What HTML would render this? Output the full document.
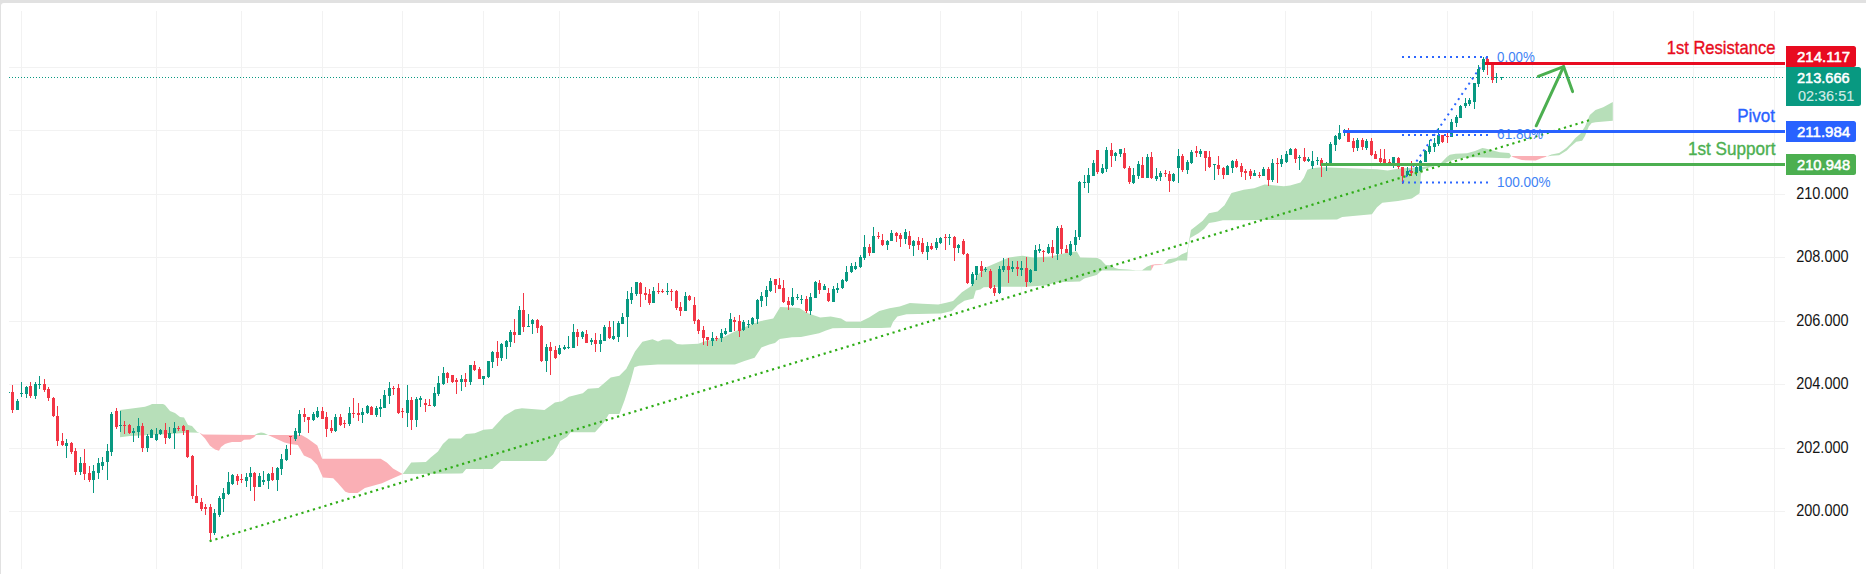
<!DOCTYPE html>
<html lang="en"><head><meta charset="utf-8"><title>Chart</title>
<style>
html,body{margin:0;padding:0;background:#fff;}
body{width:1866px;height:574px;overflow:hidden;position:relative;font-family:"Liberation Sans",sans-serif;}
#frame{position:absolute;left:0;top:0;width:1866px;height:574px;background:#e1e1e1;}
#paper{position:absolute;left:1px;top:3px;right:0;bottom:0;background:#fff;border-top-left-radius:3px;}
svg{position:absolute;left:0;top:0;}
text{font-family:"Liberation Sans",sans-serif;}
</style></head><body>
<div id="frame"><div id="paper"></div></div>
<svg width="1866" height="574" viewBox="0 0 1866 574">
<g shape-rendering="crispEdges" fill="#f2f2f2">
<rect x="21" y="11" width="1" height="558"/><rect x="156" y="11" width="1" height="558"/><rect x="241" y="11" width="1" height="558"/><rect x="322" y="11" width="1" height="558"/><rect x="402" y="11" width="1" height="558"/><rect x="483" y="11" width="1" height="558"/><rect x="559" y="11" width="1" height="558"/><rect x="698" y="11" width="1" height="558"/><rect x="779" y="11" width="1" height="558"/><rect x="860" y="11" width="1" height="558"/><rect x="940" y="11" width="1" height="558"/><rect x="1021" y="11" width="1" height="558"/><rect x="1097" y="11" width="1" height="558"/><rect x="1178" y="11" width="1" height="558"/><rect x="1285" y="11" width="1" height="558"/><rect x="1371" y="11" width="1" height="558"/><rect x="1447" y="11" width="1" height="558"/><rect x="1532" y="11" width="1" height="558"/><rect x="1613" y="11" width="1" height="558"/><rect x="1693" y="11" width="1" height="558"/><rect x="1774" y="11" width="1" height="558"/><rect x="9" y="67" width="1776" height="1"/><rect x="9" y="130" width="1776" height="1"/><rect x="9" y="194" width="1776" height="1"/><rect x="9" y="257" width="1776" height="1"/><rect x="9" y="321" width="1776" height="1"/><rect x="9" y="384" width="1776" height="1"/><rect x="9" y="448" width="1776" height="1"/><rect x="9" y="511" width="1776" height="1"/>
</g>
<polygon fill="rgb(183,223,185)" points="120,410 130,408.8 145,406.8 150,405 152,404 163,404 165,405 170,411 175,413 180,417 184,417.5 188,425 192,426 197,431.7 199.5,432.7 199.5,432.7 190,432.6 170,434 150,435 130,436 120,437.3"/>
<polygon fill="rgb(250,175,181)" points="199.5,432.7 203,434.5 253.7,434.9 256,435.2 256,435.2 254,437.3 250,439.5 244,439.8 241,442 232,442 228,443 225,444 221,447 219,450.7 215,449.5 210,445.8 205,438.5 199.5,432.7"/>
<polygon fill="rgb(183,223,185)" points="254.3,435 258,433.3 261,432.6 264,433 268,435 268,435 254.3,435"/>
<polygon fill="rgb(250,175,181)" points="268,435.1 301.5,435.1 307.6,438.5 317.3,445.4 322.2,458.8 380.7,458.8 386.8,462.4 393,468.5 402.7,473.9 402.7,473.9 393,478.3 382,483.2 364.9,488 357.6,492.9 349,492.9 345.4,491.7 338,483.2 333.2,478.3 322.9,477.6 317.3,464.9 311.2,458.8 303.9,455.6 300.2,449 297.8,444.9 290.5,444.1 284.4,442.4 274.6,438 268,435.1"/>
<polygon fill="rgb(183,223,185)" points="402.7,473.9 411.2,462.4 425.9,462 430.7,457.6 438,451.5 442.9,444.1 448.7,438.5 460.9,438.5 466,434 474.8,433.3 483.5,429.8 492.2,429 504.4,415.8 514.9,409.6 521.9,408.2 544.5,409.9 554.9,402.6 561.9,401.2 568.9,396.7 582.8,393.2 588,388.7 598.5,388 610.7,377.5 619.4,375.8 626.3,368.8 635,351.4 642.4,341.7 652.5,339.3 658,341.5 662.8,339.5 670.5,339.4 677,344 682,344.5 698.3,343.8 707,340.6 712.2,340.2 724.4,336.7 734.9,331.5 750.6,324.5 761,321 773.2,318.6 780.2,307.1 799.3,308.1 808,313.3 820.2,317.5 830.7,316.5 841.1,318.6 846.3,321.7 860.3,321.7 869,317.5 879.3,310.9 889.5,308.2 899.7,306.4 909.9,303 922.4,303.7 938.2,304.6 946.2,302.8 953.1,301 961.9,292.3 970.6,286.4 977.5,274.9 984.5,267.9 996.7,262.7 1008.9,257.5 1022.8,255.7 1033.3,257.5 1050.7,256.4 1061.1,254 1069.8,252.2 1076.8,251.5 1080.3,257.5 1097.4,257.9 1100.9,259.7 1105.8,264.9 1111.4,265.3 1114.9,268.1 1119,269.1 1127.4,269.5 1135.8,270.2 1142.1,270.2 1146.9,266.7 1151.1,265 1151.1,270.5 1101.6,270.5 1096.7,275.1 1084.2,278.6 1080,281.4 1064.6,281.9 1055,282.6 1047.2,285.3 1036.9,286 1025.6,286.7 1002.9,286.7 983.7,287.2 980.3,289.4 975.8,290.6 973.5,298.5 964.4,300.7 957.6,305.3 952,310.9 941,313.5 906.5,314.3 897.4,316.6 893,322 890.7,327.5 881.2,328 844.6,328 832.7,328.3 826,330.6 819.1,333.3 801,336.9 792,337.3 779.5,338.9 775,343 769.3,344.6 761.4,347.5 754.6,357.7 744.4,361.1 734.9,364.5 680,364.5 657.7,364.5 639,365.7 634.4,367.3 631,380 624.6,400.2 619.4,414.1 608.9,414.1 603.7,422.8 595,432.2 570.6,432.2 567.1,436.7 560.2,440.9 553.2,454.2 546.2,461.1 501,461.1 492.2,469.1 466.1,469.1 462.6,473.3 460,473.4 402.7,473.9"/>
<polygon fill="rgb(250,175,181)" points="1151.1,265 1155.3,264.3 1163.7,264.3 1163.7,264.3 1160.2,265 1153.9,265.3 1151.1,270.5"/>
<polygon fill="rgb(183,223,185)" points="1163.7,264.3 1168.5,259.3 1176.2,257.9 1181.8,254.2 1187.1,252.1 1190.9,230 1195.7,226.3 1202.7,220.7 1208.9,213.3 1217.6,211.6 1224.5,205.3 1231.5,193.1 1243.7,189.7 1254.2,188.3 1264.6,184.4 1283.8,186.2 1290,185.4 1300.5,182.5 1303.9,177.7 1307.4,169.7 1311.8,168.2 1321.4,167.3 1377.1,169.3 1387.6,170.6 1398,168.8 1422.5,167.1 1440.3,163.8 1446.8,157 1449.8,154.8 1455.6,153.8 1467.1,153.3 1475,151 1482.4,148.1 1485.3,148.5 1499.7,152.3 1509.3,152.9 1511.2,156 1511.2,156 1509.3,158.3 1475,157.2 1465,157.8 1455.5,159.3 1447.8,161.8 1442,164.7 1432.5,166.6 1422.9,169.5 1421,174.3 1419.6,193.3 1411.9,198.5 1398,200.9 1382.3,202.7 1377,207.2 1371.9,214.2 1342.2,217 1337,219.4 1222.9,220.3 1215.3,222.1 1209,223 1204.1,229.1 1198.5,233.2 1190.2,238.1 1188.1,247.9 1187.1,260.4 1177.6,260.4 1174.8,261.8 1170.6,263.2 1165.1,263.9 1163.7,264.3"/>
<polygon fill="rgb(250,175,181)" points="1511.2,156 1545.5,156 1547,156.5 1547,156.5 1541.3,158.3 1535.7,160.4 1521.8,160.1 1513.4,157.3 1511.2,156"/>
<polygon fill="rgb(183,223,185)" points="1547,156.5 1551.4,154.5 1559.1,153 1563.6,150 1566.8,147.5 1570.6,143.7 1575.4,137.9 1580.2,134.1 1585,126.4 1589.8,114.9 1595.5,110.1 1603.2,107.3 1612.8,101.9 1612.8,120.7 1595.5,122.2 1591.7,123 1588.8,126.4 1585,136 1582.1,140.8 1576.3,141.8 1569.6,147.5 1566.8,150.4 1559.1,155.2 1551.4,155.7 1547,156.5"/>
<line x1="1402.5" y1="182" x2="1487.3" y2="56.8" stroke="#2c66ff" stroke-width="2" stroke-dasharray="2 4.2"/>
<g shape-rendering="crispEdges">
<rect x="9" y="392" width="1" height="1" fill="#089981"/><path fill="#f23645" d="M12 385h1v28h-1zM11 392h3v18h-3z"/><path fill="#089981" d="M17 399h1v11h-1zM16 401h3v9h-3z"/><path fill="#089981" d="M21 382h1v15h-1zM20 393h3v1h-3z"/><path fill="#089981" d="M26 386h1v12h-1zM25 387h3v7h-3z"/><path fill="#f23645" d="M30 382h1v16h-1zM29 386h3v10h-3z"/><path fill="#089981" d="M35 382h1v17h-1zM34 384h3v12h-3z"/><path fill="#089981" d="M39 376h1v13h-1zM38 384h3v1h-3z"/><path fill="#f23645" d="M44 379h1v13h-1zM43 384h3v6h-3z"/><path fill="#f23645" d="M48 387h1v14h-1zM47 389h3v9h-3z"/><path fill="#f23645" d="M53 397h1v20h-1zM52 398h3v18h-3z"/><path fill="#f23645" d="M57 406h1v40h-1zM56 416h3v25h-3z"/><path fill="#f23645" d="M62 433h1v13h-1zM61 441h3v4h-3z"/><path fill="#089981" d="M66 439h1v19h-1zM65 443h3v3h-3z"/><path fill="#f23645" d="M71 442h1v12h-1zM70 443h3v9h-3z"/><path fill="#f23645" d="M75 448h1v27h-1zM74 451h3v21h-3z"/><path fill="#089981" d="M80 457h1v18h-1zM79 463h3v9h-3z"/><path fill="#f23645" d="M84 449h1v31h-1zM83 463h3v11h-3z"/><path fill="#f23645" d="M89 466h1v16h-1zM88 473h3v7h-3z"/><path fill="#089981" d="M93 465h1v28h-1zM92 471h3v9h-3z"/><path fill="#089981" d="M98 458h1v21h-1zM97 463h3v10h-3z"/><path fill="#089981" d="M102 457h1v13h-1zM101 462h3v4h-3z"/><path fill="#089981" d="M107 444h1v36h-1zM106 451h3v11h-3z"/><path fill="#089981" d="M111 412h1v44h-1zM110 414h3v38h-3z"/><path fill="#f23645" d="M116 408h1v21h-1zM115 411h3v16h-3z"/><path fill="#089981" d="M120 411h1v21h-1zM119 425h3v1h-3z"/><path fill="#f23645" d="M124 421h1v13h-1zM123 425h3v1h-3z"/><path fill="#f23645" d="M129 424h1v10h-1zM128 425h3v8h-3z"/><path fill="#089981" d="M133 428h1v14h-1zM132 431h3v2h-3z"/><path fill="#089981" d="M138 418h1v20h-1zM137 426h3v6h-3z"/><path fill="#f23645" d="M142 423h1v29h-1zM141 426h3v22h-3z"/><path fill="#089981" d="M147 434h1v18h-1zM146 436h3v12h-3z"/><path fill="#089981" d="M151 429h1v9h-1zM150 430h3v8h-3z"/><path fill="#089981" d="M156 428h1v13h-1zM155 434h3v6h-3z"/><path fill="#089981" d="M160 429h1v6h-1zM159 430h3v4h-3z"/><path fill="#f23645" d="M165 423h1v21h-1zM164 430h3v8h-3z"/><path fill="#089981" d="M169 427h1v12h-1zM168 433h3v5h-3z"/><path fill="#089981" d="M174 422h1v27h-1zM173 428h3v5h-3z"/><path fill="#f23645" d="M178 426h1v5h-1zM177 428h3v1h-3z"/><path fill="#f23645" d="M183 425h1v10h-1zM182 426h3v5h-3z"/><path fill="#f23645" d="M187 430h1v28h-1zM186 430h3v27h-3z"/><path fill="#f23645" d="M192 455h1v44h-1zM191 456h3v40h-3z"/><path fill="#f23645" d="M196 485h1v18h-1zM195 496h3v7h-3z"/><path fill="#f23645" d="M201 498h1v13h-1zM200 502h3v7h-3z"/><path fill="#f23645" d="M205 504h1v11h-1zM204 507h3v2h-3z"/><path fill="#f23645" d="M210 504h1v37h-1zM209 507h3v26h-3z"/><path fill="#089981" d="M214 509h1v26h-1zM213 513h3v20h-3z"/><path fill="#089981" d="M219 496h1v21h-1zM218 498h3v17h-3z"/><path fill="#089981" d="M223 488h1v24h-1zM222 493h3v6h-3z"/><path fill="#089981" d="M228 472h1v23h-1zM227 482h3v12h-3z"/><path fill="#089981" d="M232 474h1v11h-1zM231 475h3v9h-3z"/><path fill="#f23645" d="M237 474h1v11h-1zM236 476h3v5h-3z"/><path fill="#f23645" d="M241 474h1v9h-1zM240 479h3v1h-3z"/><path fill="#089981" d="M246 473h1v14h-1zM245 477h3v4h-3z"/><path fill="#089981" d="M250 467h1v24h-1zM249 473h3v4h-3z"/><path fill="#f23645" d="M254 472h1v29h-1zM253 473h3v14h-3z"/><path fill="#089981" d="M259 473h1v14h-1zM258 476h3v11h-3z"/><path fill="#089981" d="M263 471h1v14h-1zM262 480h3v2h-3z"/><path fill="#089981" d="M268 473h1v16h-1zM267 474h3v7h-3z"/><path fill="#f23645" d="M272 467h1v14h-1zM271 473h3v7h-3z"/><path fill="#089981" d="M277 467h1v24h-1zM276 468h3v12h-3z"/><path fill="#089981" d="M281 454h1v21h-1zM280 459h3v10h-3z"/><path fill="#089981" d="M286 445h1v16h-1zM285 449h3v11h-3z"/><path fill="#f23645" d="M290 436h1v19h-1zM289 436h3v1h-3z"/><path fill="#089981" d="M295 428h1v13h-1zM294 431h3v8h-3z"/><path fill="#089981" d="M299 410h1v26h-1zM298 414h3v19h-3z"/><path fill="#f23645" d="M304 408h1v14h-1zM303 414h3v3h-3z"/><path fill="#f23645" d="M308 417h1v16h-1zM307 417h3v3h-3z"/><path fill="#089981" d="M313 412h1v9h-1zM312 414h3v6h-3z"/><path fill="#089981" d="M317 407h1v11h-1zM316 411h3v6h-3z"/><path fill="#f23645" d="M322 407h1v12h-1zM321 411h3v8h-3z"/><path fill="#f23645" d="M326 412h1v25h-1zM325 417h3v12h-3z"/><path fill="#f23645" d="M331 420h1v13h-1zM330 428h3v3h-3z"/><path fill="#089981" d="M335 414h1v18h-1zM334 417h3v14h-3z"/><path fill="#f23645" d="M340 414h1v12h-1zM339 417h3v8h-3z"/><path fill="#f23645" d="M344 420h1v8h-1zM343 423h3v1h-3z"/><path fill="#089981" d="M349 407h1v19h-1zM348 413h3v11h-3z"/><path fill="#f23645" d="M353 398h1v20h-1zM352 413h3v1h-3z"/><path fill="#f23645" d="M358 403h1v18h-1zM357 413h3v2h-3z"/><path fill="#089981" d="M362 408h1v15h-1zM361 412h3v3h-3z"/><path fill="#089981" d="M367 405h1v9h-1zM366 406h3v7h-3z"/><path fill="#f23645" d="M371 406h1v9h-1zM370 407h3v8h-3z"/><path fill="#089981" d="M376 406h1v11h-1zM375 408h3v7h-3z"/><path fill="#089981" d="M380 399h1v18h-1zM379 407h3v2h-3z"/><path fill="#089981" d="M384 390h1v18h-1zM383 395h3v13h-3z"/><path fill="#089981" d="M389 382h1v22h-1zM388 388h3v8h-3z"/><path fill="#f23645" d="M393 386h1v9h-1zM392 388h3v1h-3z"/><path fill="#f23645" d="M398 384h1v30h-1zM397 388h3v25h-3z"/><path fill="#f23645" d="M402 408h1v10h-1zM401 411h3v1h-3z"/><path fill="#089981" d="M407 385h1v42h-1zM406 400h3v13h-3z"/><path fill="#f23645" d="M411 397h1v33h-1zM410 400h3v20h-3z"/><path fill="#089981" d="M416 397h1v30h-1zM415 399h3v21h-3z"/><path fill="#089981" d="M420 396h1v11h-1zM419 398h3v2h-3z"/><path fill="#f23645" d="M425 399h1v13h-1zM424 403h3v2h-3z"/><path fill="#f23645" d="M429 399h1v7h-1zM428 405h3v1h-3z"/><path fill="#089981" d="M434 387h1v20h-1zM433 393h3v13h-3z"/><path fill="#089981" d="M438 376h1v20h-1zM437 383h3v11h-3z"/><path fill="#089981" d="M443 367h1v18h-1zM442 373h3v11h-3z"/><path fill="#f23645" d="M447 372h1v11h-1zM446 373h3v5h-3z"/><path fill="#f23645" d="M452 375h1v8h-1zM451 375h3v7h-3z"/><path fill="#f23645" d="M456 378h1v16h-1zM455 380h3v2h-3z"/><path fill="#089981" d="M461 375h1v16h-1zM460 379h3v3h-3z"/><path fill="#f23645" d="M465 373h1v14h-1zM464 379h3v3h-3z"/><path fill="#089981" d="M470 365h1v20h-1zM469 365h3v17h-3z"/><path fill="#f23645" d="M474 361h1v10h-1zM473 365h3v5h-3z"/><path fill="#f23645" d="M479 367h1v12h-1zM478 369h3v10h-3z"/><path fill="#089981" d="M483 376h1v9h-1zM482 376h3v3h-3z"/><path fill="#089981" d="M488 361h1v17h-1zM487 361h3v16h-3z"/><path fill="#089981" d="M492 351h1v17h-1zM491 352h3v10h-3z"/><path fill="#f23645" d="M497 341h1v25h-1zM496 352h3v6h-3z"/><path fill="#089981" d="M501 343h1v18h-1zM500 344h3v14h-3z"/><path fill="#089981" d="M506 340h1v19h-1zM505 341h3v6h-3z"/><path fill="#089981" d="M510 330h1v17h-1zM509 332h3v10h-3z"/><path fill="#f23645" d="M514 319h1v24h-1zM513 332h3v3h-3z"/><path fill="#089981" d="M519 306h1v29h-1zM518 310h3v25h-3z"/><path fill="#f23645" d="M523 293h1v39h-1zM522 310h3v17h-3z"/><path fill="#089981" d="M528 314h1v13h-1zM527 326h3v1h-3z"/><path fill="#089981" d="M532 319h1v15h-1zM531 320h3v4h-3z"/><path fill="#f23645" d="M537 319h1v14h-1zM536 320h3v8h-3z"/><path fill="#f23645" d="M541 325h1v37h-1zM540 326h3v35h-3z"/><path fill="#089981" d="M546 344h1v28h-1zM545 347h3v14h-3z"/><path fill="#f23645" d="M550 342h1v33h-1zM549 347h3v4h-3z"/><path fill="#f23645" d="M555 346h1v13h-1zM554 350h3v8h-3z"/><path fill="#089981" d="M559 345h1v10h-1zM558 348h3v6h-3z"/><path fill="#089981" d="M564 345h1v5h-1zM563 347h3v2h-3z"/><path fill="#089981" d="M568 336h1v13h-1zM567 347h3v1h-3z"/><path fill="#089981" d="M573 324h1v24h-1zM572 332h3v16h-3z"/><path fill="#f23645" d="M577 329h1v17h-1zM576 332h3v5h-3z"/><path fill="#089981" d="M582 331h1v8h-1zM581 332h3v5h-3z"/><path fill="#f23645" d="M586 330h1v13h-1zM585 334h3v9h-3z"/><path fill="#089981" d="M591 338h1v7h-1zM590 340h3v2h-3z"/><path fill="#f23645" d="M595 333h1v19h-1zM594 340h3v4h-3z"/><path fill="#089981" d="M600 334h1v18h-1zM599 340h3v4h-3z"/><path fill="#089981" d="M604 325h1v16h-1zM603 327h3v14h-3z"/><path fill="#f23645" d="M609 321h1v18h-1zM608 327h3v11h-3z"/><path fill="#089981" d="M613 321h1v19h-1zM612 336h3v3h-3z"/><path fill="#089981" d="M618 321h1v21h-1zM617 323h3v14h-3z"/><path fill="#089981" d="M622 313h1v11h-1zM621 317h3v7h-3z"/><path fill="#089981" d="M627 291h1v46h-1zM626 299h3v18h-3z"/><path fill="#089981" d="M631 287h1v17h-1zM630 293h3v7h-3z"/><path fill="#089981" d="M636 282h1v14h-1zM635 282h3v12h-3z"/><path fill="#f23645" d="M640 282h1v25h-1zM639 283h3v11h-3z"/><path fill="#f23645" d="M645 287h1v13h-1zM644 293h3v2h-3z"/><path fill="#f23645" d="M649 289h1v16h-1zM648 294h3v9h-3z"/><path fill="#089981" d="M653 287h1v16h-1zM652 291h3v12h-3z"/><path fill="#f23645" d="M658 283h1v11h-1zM657 291h3v1h-3z"/><path fill="#f23645" d="M662 289h1v4h-1zM661 291h3v1h-3z"/><path fill="#089981" d="M667 283h1v12h-1zM666 291h3v1h-3z"/><path fill="#f23645" d="M671 289h1v12h-1zM670 291h3v1h-3z"/><path fill="#f23645" d="M676 290h1v20h-1zM675 291h3v17h-3z"/><path fill="#f23645" d="M680 302h1v14h-1zM679 307h3v4h-3z"/><path fill="#089981" d="M685 292h1v19h-1zM684 296h3v15h-3z"/><path fill="#f23645" d="M689 295h1v6h-1zM688 296h3v4h-3z"/><path fill="#f23645" d="M694 297h1v27h-1zM693 305h3v16h-3z"/><path fill="#f23645" d="M698 319h1v15h-1zM697 320h3v11h-3z"/><path fill="#f23645" d="M703 326h1v19h-1zM702 330h3v8h-3z"/><path fill="#f23645" d="M707 337h1v9h-1zM706 337h3v3h-3z"/><path fill="#089981" d="M712 332h1v14h-1zM711 338h3v3h-3z"/><path fill="#f23645" d="M716 336h1v5h-1zM715 338h3v1h-3z"/><path fill="#089981" d="M721 329h1v13h-1zM720 333h3v5h-3z"/><path fill="#089981" d="M725 328h1v7h-1zM724 331h3v3h-3z"/><path fill="#089981" d="M730 313h1v19h-1zM729 319h3v13h-3z"/><path fill="#f23645" d="M734 317h1v14h-1zM733 320h3v2h-3z"/><path fill="#f23645" d="M739 315h1v22h-1zM738 321h3v10h-3z"/><path fill="#089981" d="M743 320h1v11h-1zM742 322h3v8h-3z"/><path fill="#089981" d="M748 320h1v8h-1zM747 324h3v1h-3z"/><path fill="#089981" d="M752 317h1v8h-1zM751 318h3v6h-3z"/><path fill="#089981" d="M757 299h1v25h-1zM756 300h3v19h-3z"/><path fill="#089981" d="M761 292h1v15h-1zM760 296h3v5h-3z"/><path fill="#089981" d="M766 286h1v20h-1zM765 290h3v7h-3z"/><path fill="#089981" d="M770 278h1v14h-1zM769 281h3v10h-3z"/><path fill="#f23645" d="M775 279h1v14h-1zM774 279h3v6h-3z"/><path fill="#f23645" d="M779 278h1v11h-1zM778 285h3v4h-3z"/><path fill="#f23645" d="M783 280h1v23h-1zM782 288h3v14h-3z"/><path fill="#f23645" d="M788 297h1v13h-1zM787 301h3v4h-3z"/><path fill="#089981" d="M792 288h1v18h-1zM791 297h3v8h-3z"/><path fill="#089981" d="M797 294h1v6h-1zM796 297h3v1h-3z"/><path fill="#089981" d="M801 295h1v9h-1zM800 299h3v1h-3z"/><path fill="#f23645" d="M806 296h1v17h-1zM805 299h3v12h-3z"/><path fill="#089981" d="M810 293h1v22h-1zM809 297h3v14h-3z"/><path fill="#089981" d="M815 281h1v17h-1zM814 282h3v16h-3z"/><path fill="#f23645" d="M819 280h1v14h-1zM818 283h3v7h-3z"/><path fill="#089981" d="M824 284h1v6h-1zM823 286h3v4h-3z"/><path fill="#f23645" d="M828 288h1v14h-1zM827 293h3v8h-3z"/><path fill="#089981" d="M833 286h1v16h-1zM832 289h3v13h-3z"/><path fill="#089981" d="M837 283h1v10h-1zM836 288h3v2h-3z"/><path fill="#089981" d="M842 279h1v10h-1zM841 280h3v8h-3z"/><path fill="#089981" d="M846 266h1v16h-1zM845 272h3v9h-3z"/><path fill="#089981" d="M851 263h1v10h-1zM850 266h3v6h-3z"/><path fill="#089981" d="M855 262h1v8h-1zM854 266h3v3h-3z"/><path fill="#089981" d="M860 255h1v13h-1zM859 257h3v10h-3z"/><path fill="#089981" d="M864 235h1v25h-1zM863 247h3v11h-3z"/><path fill="#f23645" d="M869 244h1v12h-1zM868 247h3v6h-3z"/><path fill="#089981" d="M873 227h1v26h-1zM872 236h3v17h-3z"/><path fill="#f23645" d="M878 232h1v7h-1zM877 236h3v1h-3z"/><path fill="#f23645" d="M882 234h1v12h-1zM881 240h3v5h-3z"/><path fill="#089981" d="M887 240h1v10h-1zM886 241h3v4h-3z"/><path fill="#089981" d="M891 230h1v11h-1zM890 233h3v8h-3z"/><path fill="#f23645" d="M896 232h1v10h-1zM895 233h3v3h-3z"/><path fill="#f23645" d="M900 233h1v14h-1zM899 235h3v4h-3z"/><path fill="#089981" d="M905 229h1v15h-1zM904 232h3v7h-3z"/><path fill="#f23645" d="M909 231h1v18h-1zM908 236h3v9h-3z"/><path fill="#089981" d="M913 240h1v16h-1zM912 241h3v5h-3z"/><path fill="#f23645" d="M918 237h1v13h-1zM917 241h3v4h-3z"/><path fill="#f23645" d="M922 238h1v16h-1zM921 243h3v9h-3z"/><path fill="#089981" d="M927 242h1v18h-1zM926 246h3v6h-3z"/><path fill="#f23645" d="M931 243h1v7h-1zM930 246h3v3h-3z"/><path fill="#089981" d="M936 238h1v12h-1zM935 242h3v6h-3z"/><path fill="#089981" d="M940 237h1v7h-1zM939 238h3v5h-3z"/><path fill="#f23645" d="M945 234h1v16h-1zM944 237h3v1h-3z"/><path fill="#089981" d="M949 234h1v11h-1zM948 237h3v1h-3z"/><path fill="#f23645" d="M954 236h1v25h-1zM953 237h3v11h-3z"/><path fill="#089981" d="M958 244h1v9h-1zM957 245h3v3h-3z"/><path fill="#f23645" d="M963 239h1v16h-1zM962 241h3v13h-3z"/><path fill="#f23645" d="M967 253h1v31h-1zM966 254h3v29h-3z"/><path fill="#089981" d="M972 272h1v14h-1zM971 274h3v10h-3z"/><path fill="#089981" d="M976 266h1v14h-1zM975 266h3v9h-3z"/><path fill="#f23645" d="M981 261h1v16h-1zM980 266h3v5h-3z"/><path fill="#089981" d="M985 267h1v5h-1zM984 269h3v1h-3z"/><path fill="#f23645" d="M990 269h1v20h-1zM989 271h3v17h-3z"/><path fill="#f23645" d="M994 285h1v11h-1zM993 288h3v5h-3z"/><path fill="#089981" d="M999 266h1v28h-1zM998 269h3v24h-3z"/><path fill="#089981" d="M1003 258h1v14h-1zM1002 266h3v4h-3z"/><path fill="#f23645" d="M1008 258h1v25h-1zM1007 266h3v4h-3z"/><path fill="#089981" d="M1012 261h1v11h-1zM1011 267h3v2h-3z"/><path fill="#f23645" d="M1017 261h1v15h-1zM1016 267h3v2h-3z"/><path fill="#089981" d="M1021 261h1v15h-1zM1020 268h3v2h-3z"/><path fill="#f23645" d="M1026 257h1v30h-1zM1025 268h3v14h-3z"/><path fill="#089981" d="M1030 269h1v14h-1zM1029 270h3v12h-3z"/><path fill="#089981" d="M1035 245h1v26h-1zM1034 250h3v21h-3z"/><path fill="#089981" d="M1039 244h1v9h-1zM1038 249h3v2h-3z"/><path fill="#f23645" d="M1043 250h1v12h-1zM1042 251h3v1h-3z"/><path fill="#089981" d="M1048 244h1v10h-1zM1047 247h3v6h-3z"/><path fill="#f23645" d="M1052 240h1v18h-1zM1051 247h3v6h-3z"/><path fill="#089981" d="M1057 226h1v34h-1zM1056 228h3v26h-3z"/><path fill="#f23645" d="M1061 225h1v29h-1zM1060 228h3v21h-3z"/><path fill="#f23645" d="M1066 245h1v8h-1zM1065 249h3v4h-3z"/><path fill="#089981" d="M1070 241h1v15h-1zM1069 244h3v11h-3z"/><path fill="#089981" d="M1075 230h1v21h-1zM1074 237h3v8h-3z"/><path fill="#089981" d="M1079 181h1v59h-1zM1078 182h3v55h-3z"/><path fill="#089981" d="M1084 175h1v13h-1zM1083 182h3v1h-3z"/><path fill="#089981" d="M1088 168h1v25h-1zM1087 175h3v8h-3z"/><path fill="#089981" d="M1093 160h1v16h-1zM1092 163h3v13h-3z"/><path fill="#f23645" d="M1097 150h1v24h-1zM1096 150h3v22h-3z"/><path fill="#089981" d="M1102 164h1v10h-1zM1101 168h3v5h-3z"/><path fill="#089981" d="M1106 147h1v25h-1zM1105 150h3v19h-3z"/><path fill="#f23645" d="M1111 143h1v24h-1zM1110 150h3v6h-3z"/><path fill="#089981" d="M1115 152h1v9h-1zM1114 153h3v3h-3z"/><path fill="#089981" d="M1120 149h1v8h-1zM1119 149h3v5h-3z"/><path fill="#f23645" d="M1124 148h1v21h-1zM1123 153h3v15h-3z"/><path fill="#f23645" d="M1129 166h1v18h-1zM1128 168h3v14h-3z"/><path fill="#089981" d="M1133 168h1v16h-1zM1132 175h3v8h-3z"/><path fill="#089981" d="M1138 161h1v18h-1zM1137 164h3v12h-3z"/><path fill="#f23645" d="M1142 157h1v21h-1zM1141 165h3v13h-3z"/><path fill="#089981" d="M1147 154h1v24h-1zM1146 157h3v21h-3z"/><path fill="#f23645" d="M1151 152h1v27h-1zM1150 157h3v21h-3z"/><path fill="#089981" d="M1156 168h1v13h-1zM1155 176h3v3h-3z"/><path fill="#089981" d="M1160 171h1v10h-1zM1159 173h3v4h-3z"/><path fill="#f23645" d="M1165 170h1v7h-1zM1164 173h3v1h-3z"/><path fill="#f23645" d="M1169 171h1v21h-1zM1168 174h3v7h-3z"/><path fill="#089981" d="M1173 173h1v9h-1zM1172 174h3v7h-3z"/><path fill="#089981" d="M1178 149h1v34h-1zM1177 156h3v12h-3z"/><path fill="#f23645" d="M1182 154h1v18h-1zM1181 156h3v14h-3z"/><path fill="#089981" d="M1187 160h1v14h-1zM1186 162h3v8h-3z"/><path fill="#089981" d="M1191 150h1v14h-1zM1190 152h3v11h-3z"/><path fill="#f23645" d="M1196 146h1v11h-1zM1195 151h3v2h-3z"/><path fill="#089981" d="M1200 149h1v8h-1zM1199 151h3v3h-3z"/><path fill="#f23645" d="M1205 151h1v20h-1zM1204 151h3v7h-3z"/><path fill="#f23645" d="M1209 151h1v17h-1zM1208 157h3v10h-3z"/><path fill="#089981" d="M1214 164h1v16h-1zM1213 164h3v1h-3z"/><path fill="#f23645" d="M1218 156h1v19h-1zM1217 165h3v4h-3z"/><path fill="#f23645" d="M1223 167h1v12h-1zM1222 168h3v7h-3z"/><path fill="#089981" d="M1227 165h1v10h-1zM1226 166h3v9h-3z"/><path fill="#089981" d="M1232 160h1v13h-1zM1231 161h3v7h-3z"/><path fill="#f23645" d="M1236 159h1v9h-1zM1235 161h3v6h-3z"/><path fill="#f23645" d="M1241 163h1v14h-1zM1240 166h3v6h-3z"/><path fill="#f23645" d="M1245 169h1v11h-1zM1244 171h3v2h-3z"/><path fill="#f23645" d="M1250 169h1v10h-1zM1249 171h3v5h-3z"/><path fill="#089981" d="M1254 170h1v6h-1zM1253 173h3v3h-3z"/><path fill="#f23645" d="M1259 172h1v6h-1zM1258 175h3v1h-3z"/><path fill="#089981" d="M1263 167h1v9h-1zM1262 169h3v7h-3z"/><path fill="#f23645" d="M1268 167h1v19h-1zM1267 169h3v11h-3z"/><path fill="#089981" d="M1272 159h1v23h-1zM1271 163h3v17h-3z"/><path fill="#f23645" d="M1277 158h1v25h-1zM1276 163h3v1h-3z"/><path fill="#089981" d="M1281 155h1v12h-1zM1280 159h3v5h-3z"/><path fill="#089981" d="M1286 151h1v12h-1zM1285 154h3v8h-3z"/><path fill="#089981" d="M1290 148h1v7h-1zM1289 149h3v6h-3z"/><path fill="#f23645" d="M1295 148h1v15h-1zM1294 149h3v10h-3z"/><path fill="#089981" d="M1299 155h1v15h-1zM1298 157h3v1h-3z"/><path fill="#f23645" d="M1304 148h1v14h-1zM1303 157h3v4h-3z"/><path fill="#089981" d="M1308 157h1v5h-1zM1307 159h3v2h-3z"/><path fill="#089981" d="M1312 151h1v18h-1zM1311 161h3v5h-3z"/><path fill="#089981" d="M1317 157h1v8h-1zM1316 160h3v1h-3z"/><path fill="#f23645" d="M1321 158h1v19h-1zM1320 160h3v6h-3z"/><path fill="#089981" d="M1326 162h1v9h-1zM1325 164h3v1h-3z"/><path fill="#089981" d="M1330 142h1v24h-1zM1329 144h3v21h-3z"/><path fill="#089981" d="M1335 135h1v16h-1zM1334 136h3v9h-3z"/><path fill="#089981" d="M1339 125h1v15h-1zM1338 133h3v6h-3z"/><path fill="#089981" d="M1344 129h1v7h-1zM1343 131h3v1h-3z"/><path fill="#f23645" d="M1348 128h1v14h-1zM1347 131h3v11h-3z"/><path fill="#f23645" d="M1353 138h1v14h-1zM1352 141h3v7h-3z"/><path fill="#089981" d="M1357 138h1v13h-1zM1356 140h3v8h-3z"/><path fill="#f23645" d="M1362 138h1v12h-1zM1361 140h3v7h-3z"/><path fill="#089981" d="M1366 139h1v11h-1zM1365 141h3v7h-3z"/><path fill="#f23645" d="M1371 138h1v18h-1zM1370 141h3v14h-3z"/><path fill="#f23645" d="M1375 151h1v8h-1zM1374 154h3v5h-3z"/><path fill="#f23645" d="M1380 149h1v14h-1zM1379 158h3v4h-3z"/><path fill="#f23645" d="M1384 149h1v15h-1zM1383 159h3v5h-3z"/><path fill="#f23645" d="M1389 159h1v5h-1zM1388 162h3v2h-3z"/><path fill="#089981" d="M1393 157h1v11h-1zM1392 157h3v7h-3z"/><path fill="#f23645" d="M1398 157h1v12h-1zM1397 158h3v9h-3z"/><path fill="#f23645" d="M1402 167h1v17h-1zM1401 167h3v9h-3z"/><path fill="#089981" d="M1407 167h1v9h-1zM1406 171h3v4h-3z"/><path fill="#f23645" d="M1411 161h1v15h-1zM1410 171h3v2h-3z"/><path fill="#089981" d="M1416 164h1v12h-1zM1415 167h3v6h-3z"/><path fill="#089981" d="M1420 160h1v12h-1zM1419 161h3v10h-3z"/><path fill="#089981" d="M1425 150h1v12h-1zM1424 151h3v11h-3z"/><path fill="#089981" d="M1429 140h1v14h-1zM1428 146h3v6h-3z"/><path fill="#089981" d="M1434 138h1v14h-1zM1433 143h3v4h-3z"/><path fill="#089981" d="M1438 128h1v18h-1zM1437 135h3v9h-3z"/><path fill="#f23645" d="M1442 135h1v8h-1zM1441 135h3v7h-3z"/><path fill="#f23645" d="M1447 133h1v10h-1zM1446 136h3v1h-3z"/><path fill="#089981" d="M1451 119h1v18h-1zM1450 122h3v15h-3z"/><path fill="#089981" d="M1456 115h1v12h-1zM1455 117h3v6h-3z"/><path fill="#089981" d="M1460 105h1v13h-1zM1459 106h3v12h-3z"/><path fill="#089981" d="M1465 98h1v10h-1zM1464 103h3v3h-3z"/><path fill="#089981" d="M1469 98h1v8h-1zM1468 100h3v4h-3z"/><path fill="#089981" d="M1474 83h1v26h-1zM1473 83h3v19h-3z"/><path fill="#089981" d="M1478 65h1v22h-1zM1477 69h3v15h-3z"/><path fill="#089981" d="M1483 57h1v15h-1zM1482 59h3v11h-3z"/><path fill="#f23645" d="M1487 57h1v18h-1zM1486 59h3v5h-3z"/><path fill="#f23645" d="M1492 63h1v20h-1zM1491 63h3v17h-3z"/><path fill="#089981" d="M1496 73h1v10h-1zM1495 77h3v1h-3z"/><rect x="1501" y="77" width="1" height="3" fill="#089981"/><rect x="1500" y="77" width="3" height="1" fill="#089981"/>
</g>
<line x1="209.6" y1="541.2" x2="1589" y2="120.3" stroke="#2fad17" stroke-width="2.2" stroke-dasharray="2.2 3.8"/>
<line x1="1402" y1="57" x2="1488" y2="57" stroke="#2c66ff" stroke-width="2" stroke-dasharray="2 4"/><line x1="1402" y1="135" x2="1488" y2="135" stroke="#2c66ff" stroke-width="2" stroke-dasharray="2 4"/><line x1="1402" y1="182.5" x2="1488" y2="182.5" stroke="#2c66ff" stroke-width="2" stroke-dasharray="2 4"/><text x="1497.1" y="61.9" font-size="15.2" fill="#3f83f5" textLength="37.8" lengthAdjust="spacingAndGlyphs">0.00%</text><text x="1497.1" y="138.7" font-size="15.2" fill="#3f83f5" textLength="46" lengthAdjust="spacingAndGlyphs">61.80%</text><text x="1497.1" y="186.6" font-size="15.2" fill="#3f83f5" textLength="53.6" lengthAdjust="spacingAndGlyphs">100.00%</text>
<g shape-rendering="crispEdges"><rect x="1485" y="62" width="300" height="3" fill="#e80b20"/><rect x="1343" y="130" width="442" height="3" fill="#2962ff"/><rect x="1321" y="163" width="464" height="3" fill="#4caf50"/></g>
<g fill="none" stroke="#4caf50" stroke-width="3" stroke-linecap="round" stroke-linejoin="round"><path d="M1536.2 125.8L1563.6 66.6"/><path d="M1538.3 76.4L1563.6 66.6L1572.6 91.6"/></g>
<g shape-rendering="crispEdges"><line x1="9" y1="77.5" x2="1785" y2="77.5" stroke="#089981" stroke-width="1" stroke-dasharray="1 2"/></g>
<text x="1775.4" y="53.8" text-anchor="end" font-size="17.8" fill="#e80b20" stroke="#e80b20" stroke-width="0.35" textLength="108.7" lengthAdjust="spacingAndGlyphs">1st Resistance</text>
<text x="1775" y="122" text-anchor="end" font-size="17.8" fill="#2962ff" stroke="#2962ff" stroke-width="0.35" textLength="37.8" lengthAdjust="spacingAndGlyphs">Pivot</text>
<text x="1775.5" y="154.6" text-anchor="end" font-size="17.8" fill="#4caf50" stroke="#4caf50" stroke-width="0.35" textLength="87.5" lengthAdjust="spacingAndGlyphs">1st Support</text>
<text x="1796.2" y="198.8" font-size="15.8" fill="#151515" textLength="52.4" lengthAdjust="spacingAndGlyphs">210.000</text><text x="1796.2" y="261.9" font-size="15.8" fill="#151515" textLength="52.4" lengthAdjust="spacingAndGlyphs">208.000</text><text x="1796.2" y="325.9" font-size="15.8" fill="#151515" textLength="52.4" lengthAdjust="spacingAndGlyphs">206.000</text><text x="1796.2" y="388.9" font-size="15.8" fill="#151515" textLength="52.4" lengthAdjust="spacingAndGlyphs">204.000</text><text x="1796.2" y="452.9" font-size="15.8" fill="#151515" textLength="52.4" lengthAdjust="spacingAndGlyphs">202.000</text><text x="1796.2" y="515.9" font-size="15.8" fill="#151515" textLength="52.4" lengthAdjust="spacingAndGlyphs">200.000</text>
<path fill="#e80b20" d="M1786 46h67.5a2.5 2.5 0 0 1 2.5 2.5v16a2.5 2.5 0 0 1 -2.5 2.5h-67.5z"/><path fill="#089981" d="M1786 67h72.5a2.5 2.5 0 0 1 2.5 2.5v34a2.5 2.5 0 0 1 -2.5 2.5h-72.5z"/><path fill="#2962ff" d="M1786 121h67.5a2.5 2.5 0 0 1 2.5 2.5v16a2.5 2.5 0 0 1 -2.5 2.5h-67.5z"/><path fill="#4caf50" d="M1786 154h67.5a2.5 2.5 0 0 1 2.5 2.5v16a2.5 2.5 0 0 1 -2.5 2.5h-67.5z"/>
<text x="1797" y="61.8" font-size="15.4" fill="#fff" stroke="#fff" stroke-width="0.55" stroke-linejoin="round" textLength="53.2" lengthAdjust="spacingAndGlyphs">214.117</text><text x="1797" y="82.8" font-size="15.4" fill="#fff" stroke="#fff" stroke-width="0.55" stroke-linejoin="round" textLength="52.6" lengthAdjust="spacingAndGlyphs">213.666</text><text x="1798" y="100.8" font-size="15.4" fill="#fff" fill-opacity="0.8" stroke="#fff" stroke-width="0.15" stroke-opacity="0.8" textLength="56.2" lengthAdjust="spacingAndGlyphs">02:36:51</text><text x="1797" y="136.9" font-size="15.4" fill="#fff" stroke="#fff" stroke-width="0.55" stroke-linejoin="round" textLength="53.2" lengthAdjust="spacingAndGlyphs">211.984</text><text x="1797" y="169.9" font-size="15.4" fill="#fff" stroke="#fff" stroke-width="0.55" stroke-linejoin="round" textLength="53.2" lengthAdjust="spacingAndGlyphs">210.948</text>
</svg>
</body></html>
